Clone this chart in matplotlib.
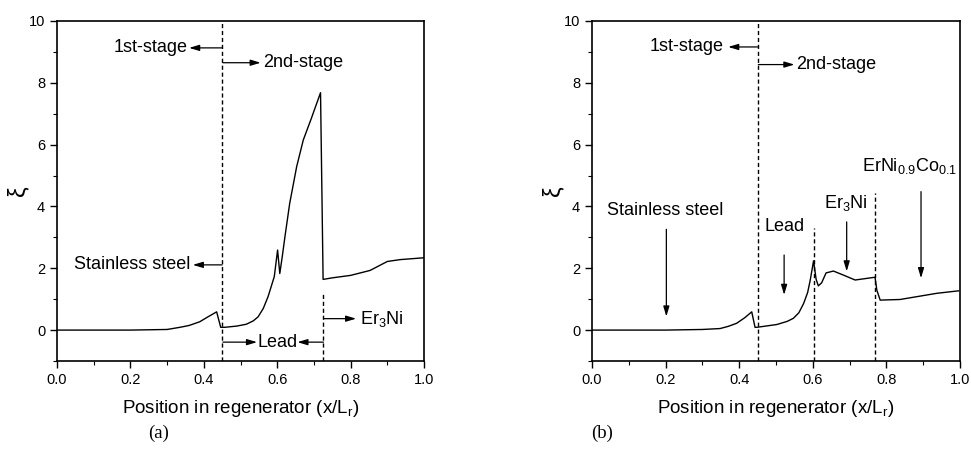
import matplotlib
matplotlib.use("Agg")
import matplotlib.pyplot as plt
from matplotlib.ticker import MultipleLocator, FormatStrFormatter

plt.rcParams["font.family"] = ["Liberation Sans", "DejaVu Sans"]

# --- data -----------------------------------------------------------------
x_a = [0.0, 0.1, 0.2, 0.3, 0.335, 0.36, 0.389, 0.41, 0.435, 0.446,
       0.457, 0.49, 0.516, 0.535, 0.548, 0.562, 0.575, 0.592, 0.601, 0.607,
       0.614, 0.621, 0.634, 0.653, 0.671, 0.693, 0.718, 0.725, 0.75, 0.8,
       0.853, 0.9, 0.935, 1.0]
y_a = [0.0, 0.0, 0.0, 0.02, 0.09, 0.15, 0.27, 0.42, 0.59, 0.09,
       0.09, 0.13, 0.19, 0.3, 0.43, 0.7, 1.08, 1.73, 2.59, 1.83,
       2.4, 3.02, 4.1, 5.29, 6.15, 6.85, 7.68, 1.64, 1.69, 1.77,
       1.93, 2.22, 2.28, 2.34]

x_b = [0.0, 0.1, 0.2, 0.3, 0.348, 0.37, 0.393, 0.415, 0.434, 0.443,
       0.448, 0.502, 0.53, 0.547, 0.562, 0.575, 0.586, 0.593, 0.602, 0.609,
       0.615, 0.624, 0.636, 0.656, 0.683, 0.715, 0.769, 0.774, 0.783, 0.837,
       0.892, 0.937, 0.996]
y_b = [0.0, 0.0, 0.0, 0.02, 0.05, 0.12, 0.22, 0.4, 0.59, 0.09,
       0.09, 0.18, 0.28, 0.38, 0.56, 0.86, 1.22, 1.62, 2.24, 1.64,
       1.43, 1.53, 1.85, 1.91, 1.78, 1.62, 1.71, 1.29, 0.97, 0.99,
       1.1, 1.19, 1.27]

# dashed boundaries: (x, top y)
bounds_a = [(0.45, 10.0), (0.726, 1.2)]
bounds_b = [(0.45, 10.0), (0.602, 3.3), (0.77, 4.45)]

FS_TEXT = 13
ARROW = dict(arrowstyle="-|>,head_length=0.6,head_width=0.18", color="black",
             lw=0.9, shrinkA=0, shrinkB=0)

fig = plt.figure(figsize=(9.71, 4.76), dpi=100)
ax_a = fig.add_axes([0.0587, 0.2416, 0.378, 0.7143])
ax_b = fig.add_axes([0.6097, 0.2416, 0.379, 0.7143])


def style_axes(ax):
    ax.set_xlim(0, 1.0)
    ax.set_ylim(-1, 10)
    ax.xaxis.set_major_locator(MultipleLocator(0.2))
    ax.xaxis.set_minor_locator(MultipleLocator(0.1))
    ax.yaxis.set_major_locator(MultipleLocator(2))
    ax.yaxis.set_minor_locator(MultipleLocator(1))
    ax.xaxis.set_major_formatter(FormatStrFormatter("%.1f"))
    ax.tick_params(which="major", direction="out", length=5, width=1.0, labelsize=10.5)
    ax.tick_params(which="minor", direction="out", length=3, width=0.8)
    for s in ax.spines.values():
        s.set_linewidth(1.2)
    ax.set_xlabel("Position in regenerator (x/L$_\\mathregular{r}$)", fontsize=13.5, labelpad=8)
    ax.set_ylabel("ξ", fontsize=17, labelpad=0)


def arrow(ax, x0, y0, x1, y1):
    ax.annotate("", xy=(x1, y1), xytext=(x0, y0), arrowprops=ARROW)


# ---- panel (a) ----
ax = ax_a
style_axes(ax)
ax.plot(x_a, y_a, color="black", lw=1.0)
for xb, top in bounds_a:
    ax.plot([xb, xb], [-1, top], color="black", lw=1.0, ls=(0, (3, 2)))

arrow(ax, 0.45, 9.13, 0.36, 9.13)
ax.text(0.355, 9.13, "1st-stage", fontsize=FS_TEXT, ha="right", va="center")
arrow(ax, 0.452, 8.65, 0.555, 8.65)
ax.text(0.562, 8.65, "2nd-stage", fontsize=FS_TEXT, ha="left", va="center")
arrow(ax, 0.45, 2.11, 0.37, 2.11)
ax.text(0.363, 2.11, "Stainless steel", fontsize=FS_TEXT, ha="right", va="center")
arrow(ax, 0.452, -0.39, 0.545, -0.39)
ax.text(0.547, -0.39, "Lead", fontsize=FS_TEXT, ha="left", va="center")
arrow(ax, 0.726, -0.39, 0.655, -0.39)
arrow(ax, 0.728, 0.37, 0.815, 0.37)
ax.text(0.826, 0.37, "Er$_\\mathregular{3}$Ni", fontsize=FS_TEXT, ha="left", va="center")

# ---- panel (b) ----
ax = ax_b
style_axes(ax)
ax.plot(x_b, y_b, color="black", lw=1.0)
for xb, top in bounds_b:
    ax.plot([xb, xb], [-1, top], color="black", lw=1.0, ls=(0, (3, 2)))

arrow(ax, 0.45, 9.16, 0.37, 9.16)
ax.text(0.357, 9.16, "1st-stage", fontsize=FS_TEXT, ha="right", va="center")
arrow(ax, 0.452, 8.59, 0.55, 8.59)
ax.text(0.555, 8.59, "2nd-stage", fontsize=FS_TEXT, ha="left", va="center")

ax.text(0.2, 3.86, "Stainless steel", fontsize=FS_TEXT, ha="center", va="center")
arrow(ax, 0.202, 3.26, 0.202, 0.44)
ax.text(0.524, 3.35, "Lead", fontsize=FS_TEXT, ha="center", va="center")
arrow(ax, 0.522, 2.43, 0.522, 1.14)
ax.text(0.69, 4.1, "Er$_\\mathregular{3}$Ni", fontsize=FS_TEXT, ha="center", va="center")
arrow(ax, 0.692, 3.5, 0.692, 1.9)
ax.text(0.862, 5.3, "ErNi$_\\mathregular{0.9}$Co$_\\mathregular{0.1}$", fontsize=FS_TEXT,
        ha="center", va="center")
arrow(ax, 0.894, 4.48, 0.894, 1.68)

# captions
fig.text(0.163, 0.09, "(a)", fontsize=13.5, family=["Liberation Serif"], ha="center", va="center")
fig.text(0.62, 0.09, "(b)", fontsize=13.5, family=["Liberation Serif"], ha="center", va="center")

fig.savefig("out.png", dpi=100)
